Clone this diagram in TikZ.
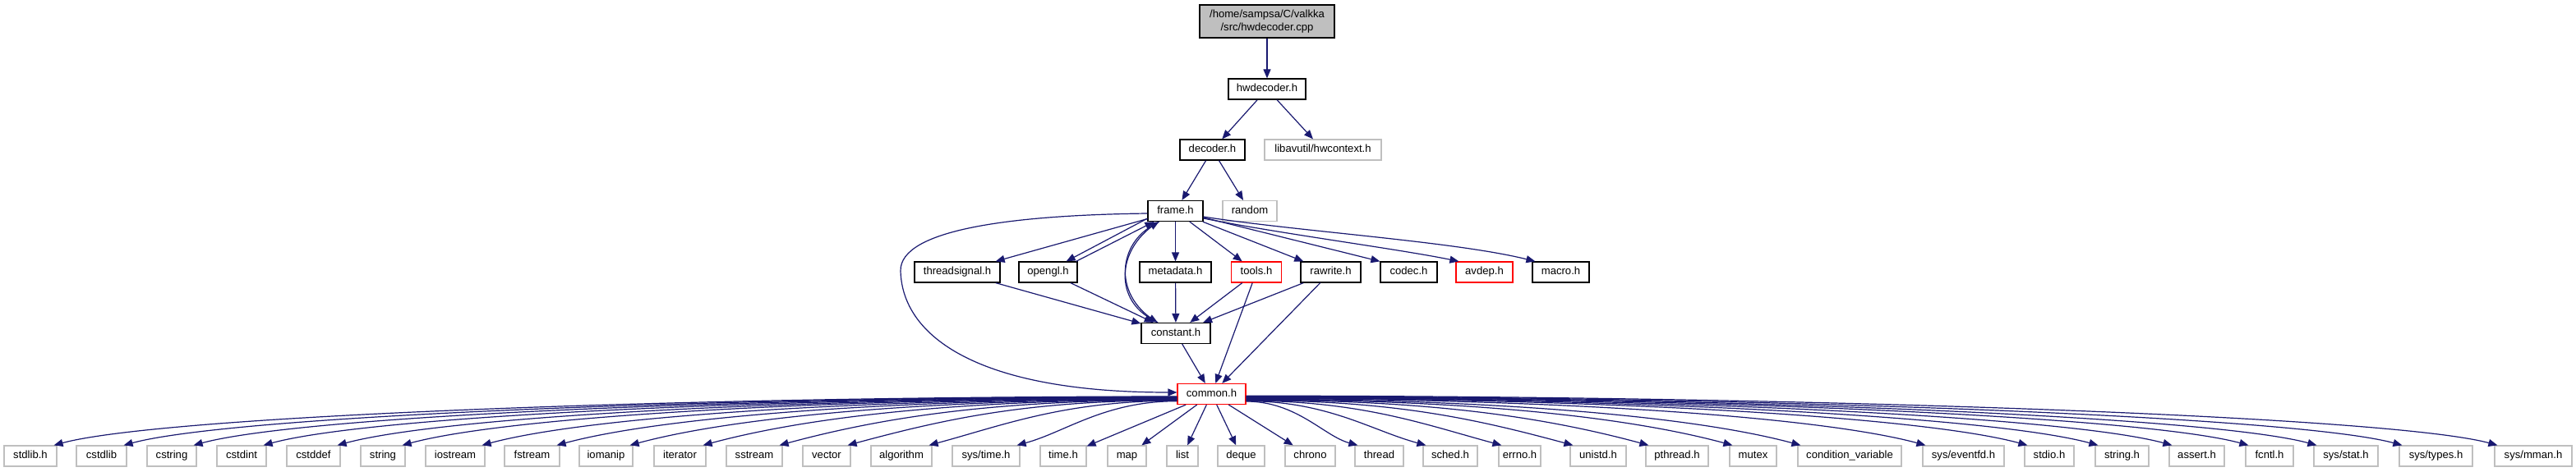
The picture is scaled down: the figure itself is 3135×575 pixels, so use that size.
\documentclass[tikz,border=0pt]{standalone}
\usepackage{fontspec}
\setmainfont{Liberation Sans}
\usetikzlibrary{arrows.meta,calc}
\definecolor{edgeblue}{HTML}{191970}
\definecolor{boxgray}{HTML}{BFBFBF}
\definecolor{boxred}{HTML}{FF0000}
\newcommand\myfs{\fontsize{13.1}{16}\selectfont}
\tikzset{
  box/.style={draw=black, line width=1.2pt, fill=white, minimum height=25pt, inner sep=0pt,
              font=\myfs, text=black, text height=9.5pt, text depth=2.7pt},
  sysbox/.style={box, draw=boxgray},
  redbox/.style={box, draw=boxred},
  topbox/.style={draw=black, line width=1.2pt, fill=boxgray, minimum width=164pt, minimum height=40pt,
              inner sep=0pt, font=\myfs, align=center},
  edge/.style={draw=edgeblue, line width=1.2pt, -{Triangle[length=11pt,width=9pt]}},
}
\begin{document}
\begin{tikzpicture}[x=1pt,y=-1pt]
\useasboundingbox[fill=white] (0,0) rectangle (3135,575);
% top part
\node[topbox] (src) at (1542,26) {/home/sampsa/C/valkka\\/src/hwdecoder.cpp};
\node[box, minimum width=94pt] (hwdec) at (1542,108.5) {hwdecoder.h};
\node[box, minimum width=79pt] (decoder) at (1475.5,182.5) {decoder.h};
\node[sysbox, minimum width=142pt] (hwctx) at (1610,182.5) {libavutil/hwcontext.h};
\node[box, minimum width=67pt] (frame) at (1430.5,257) {frame.h};
\node[sysbox, minimum width=66pt] (random) at (1521,257) {random};
% middle row
\node[box, minimum width=104pt] (threadsignal) at (1165,331.5) {threadsignal.h};
\node[box, minimum width=71pt] (opengl) at (1275.5,331.5) {opengl.h};
\node[box, minimum width=87pt] (metadata) at (1430.5,331.5) {metadata.h};
\node[redbox, minimum width=61pt] (tools) at (1529,331.5) {tools.h};
\node[box, minimum width=73pt] (rawrite) at (1619.5,331.5) {rawrite.h};
\node[box, minimum width=69pt] (codec) at (1714.5,331.5) {codec.h};
\node[redbox, minimum width=69pt] (avdep) at (1806.5,331.5) {avdep.h};
\node[box, minimum width=69pt] (macro) at (1899.5,331.5) {macro.h};
\node[box, minimum width=84pt] (constant) at (1431,406) {constant.h};
\node[redbox, minimum width=83pt] (common) at (1474.5,480) {common.h};
% bottom row
\foreach \n/\cx/\w/\lbl in {
  stdlibh/37/64/{stdlib.h}, cstdlib/123.5/61/{cstdlib}, cstring/209/60/{cstring},
  cstdint/294/60/{cstdint}, cstddef/381.5/65/{cstddef}, string/466/54/{string},
  iostream/554/72/{iostream}, fstream/647.5/67/{fstream}, iomanip/737.5/65/{iomanip},
  iterator/827.5/63/{iterator}, sstream/918/68/{sstream}, vector/1006/58/{vector},
  algorithm/1097/74/{algorithm}, systime/1200/82/{sys/time.h}, timeh/1294/56/{time.h},
  map/1371.5/47/{map}, list/1439/38/{list}, deque/1510.5/57/{deque},
  chrono/1594.5/61/{chrono}, thread/1678.5/59/{thread}, sched/1765/66/{sched.h},
  errno/1849.5/51/{errno.h}, unistd/1945/68/{unistd.h}, pthread/2041/76/{pthread.h},
  mutex/2133.5/57/{mutex}, condvar/2251/126/{condition\_variable}, eventfd/2389.5/99/{sys/eventfd.h},
  stdio/2494/60/{stdio.h}, stringh/2582.5/65/{string.h}, assert/2673.5/67/{assert.h},
  fcntl/2762/58/{fcntl.h}, sysstat/2855/78/{sys/stat.h}, systypes/2964.5/89/{sys/types.h},
  sysmman/3083/94/{sys/mman.h}}{
  \node[sysbox, minimum width=\w pt] (\n) at (\cx,555.5) {\lbl};
}
% edges, upper part
\draw[edge] (src) -- (hwdec);
\draw[edge] (hwdec) -- (decoder);
\draw[edge] (hwdec) -- (hwctx);
\draw[edge] (decoder) -- (frame);
\draw[edge] (decoder) -- (random);
\draw[edge] (frame) -- (threadsignal);
\draw[edge] ([yshift=4pt]frame.south west) -- ([xshift=-14pt]opengl.north east);
\draw[edge] ([xshift=-2pt]opengl.north east) -- ([xshift=8pt]frame.south west);
\draw[edge] (frame) -- (metadata);
\draw[edge] (frame) -- (tools);
\draw[edge] (frame) -- (rawrite);
\draw[edge] ([yshift=-8pt]frame.east) -- (codec.north west);
\draw[edge] ([yshift=-9pt]frame.east) .. controls (1560,285) and (1700,303) .. ([xshift=4pt]avdep.north west);
\draw[edge] ([yshift=-7pt]frame.east) .. controls (1580,282) and (1770,294) .. ([xshift=4pt]macro.north west);
\draw[edge] ([xshift=-20pt]frame.south) .. controls (1360,300) and (1355,362) .. ([xshift=-22pt]constant.north);
\draw[edge] ([xshift=-22pt]constant.north) .. controls (1355,362) and (1360,300) .. ([xshift=-20pt]frame.south);
\draw[edge] ([yshift=-3pt]frame.west) .. controls (1230,262) and (1095,280) .. (1096,330)
            .. controls (1098,410) and (1190,478) .. ([yshift=2pt]common.west);
\draw[edge] (threadsignal) -- (constant);
\draw[edge] (opengl) -- (constant);
\draw[edge] (metadata) -- (constant);
\draw[edge] (tools) -- (constant);
\draw[edge] (tools) -- (common);
\draw[edge] (rawrite) -- (constant);
\draw[edge] (rawrite) -- (common);
\draw[edge] (constant) -- (common);
% edges from common.h
\foreach \n/\cx/\w in {
  stdlibh/37/64, cstdlib/123.5/61, cstring/209/60, cstdint/294/60, cstddef/381.5/65,
  string/466/54, iostream/554/72, fstream/647.5/67, iomanip/737.5/65, iterator/827.5/63,
  sstream/918/68, vector/1006/58, algorithm/1097/74, systime/1200/82, timeh/1294/56,
  map/1371.5/47, list/1439/38, deque/1510.5/57, chrono/1594.5/61, thread/1678.5/59,
  sched/1765/66, errno/1849.5/51, unistd/1945/68, pthread/2041/76, mutex/2133.5/57,
  condvar/2251/126, eventfd/2389.5/99, stdio/2494/60, stringh/2582.5/65, assert/2673.5/67,
  fcntl/2762/58, sysstat/2855/78, systypes/2964.5/89, sysmman/3083/94}{
  \pgfmathtruncatemacro\side{\cx<1284 ? 1 : (\cx>1664 ? 2 : 0)}
  \pgfmathsetmacro\myD{abs(\cx-1474.5)}
  \pgfmathsetmacro\myY{2+8*(1-\myD/1650)}
  \ifcase\side
    \draw[edge] (common) -- (\n);
  \or
    \pgfmathsetmacro\myL{1433-(\cx+\w/2-4)}
    \pgfmathsetmacro\myA{min(130,0.3*\myL)}
    \pgfmathsetmacro\myB{0.27*\myA}
    \pgfmathsetmacro\myC{0.45*\myL}
    \draw[edge] ([yshift=-\myY pt]common.west) .. controls +(-\myC,0) and +(\myA,-\myB) .. ([xshift=-4pt]\n.north east);
  \or
    \pgfmathsetmacro\myL{(\cx-\w/2+4)-1516}
    \pgfmathsetmacro\myA{min(130,0.3*\myL)}
    \pgfmathsetmacro\myB{0.27*\myA}
    \pgfmathsetmacro\myC{0.45*\myL}
    \draw[edge] ([yshift=-\myY pt]common.east) .. controls +(\myC,0) and +(-\myA,-\myB) .. ([xshift=4pt]\n.north west);
  \fi
}
\end{tikzpicture}
\end{document}
